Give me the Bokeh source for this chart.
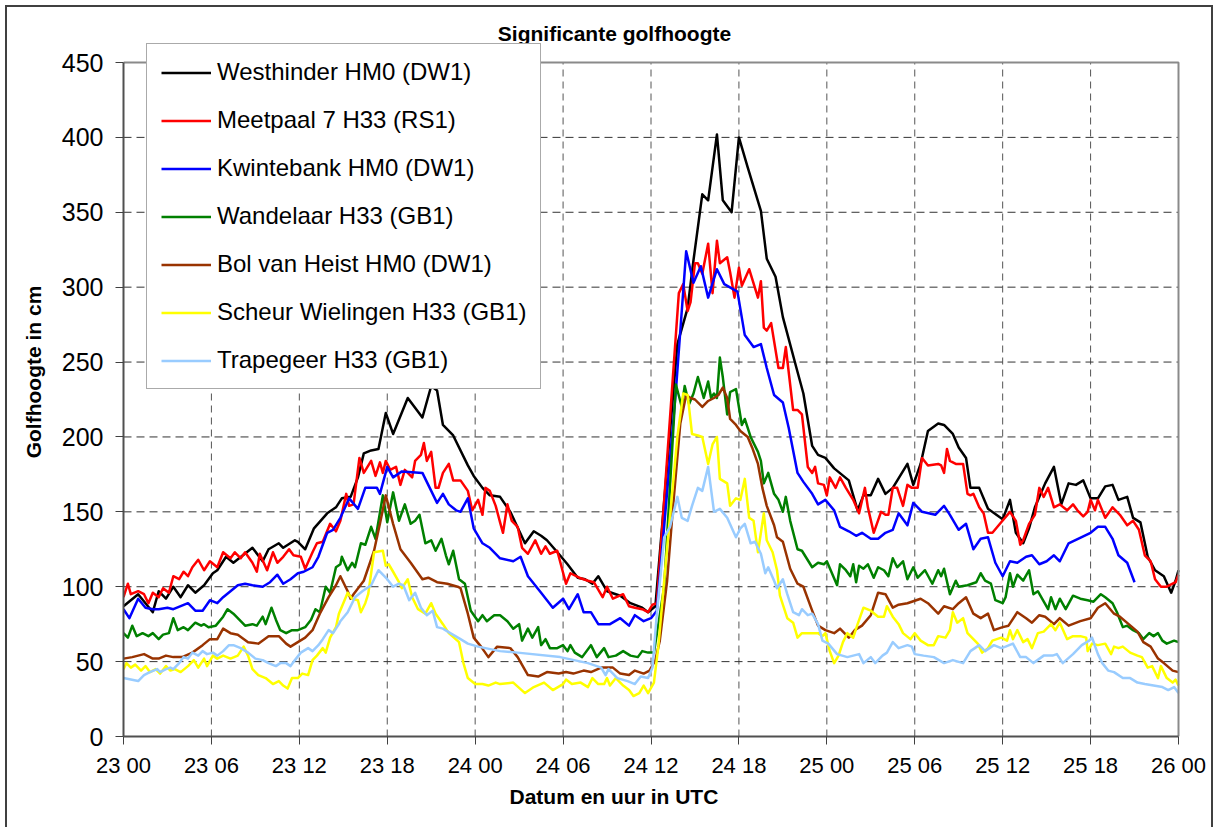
from bokeh.plotting import figure
from bokeh.models import Range1d, FixedTicker, Legend, LegendItem, Label, Title
from bokeh.embed import file_html
from bokeh.resources import INLINE

FONT = "Liberation Sans"

tick_hours = [0, 6, 12, 18, 24, 30, 36, 42, 48, 54, 60, 66, 72]
tick_labels = ["23 00", "23 06", "23 12", "23 18", "24 00", "24 06", "24 12",
               "24 18", "25 00", "25 06", "25 12", "25 18", "26 00"]
y_ticks = [0, 50, 100, 150, 200, 250, 300, 350, 400, 450]

series_names = ["Westhinder HM0 (DW1)", "Meetpaal 7 H33 (RS1)", "Kwintebank HM0 (DW1)",
                "Wandelaar H33 (GB1)", "Bol van Heist HM0 (DW1)",
                "Scheur Wielingen H33 (GB1)", "Trapegeer H33 (GB1)"]
series_colors = ["#000000", "#FF0000", "#0000FF", "#008000", "#993300", "#FFFF00", "#99CCFF"]

# (hours since 23 00, wave height in cm)
westhinder = [(0.0,87),(1.0,95),(2.0,83),(2.4,97),(2.9,92),(3.4,100),(3.9,93),(4.4,101),(4.9,96),(5.5,101),
 (6.1,109),(6.4,111),(7.0,120),(7.5,116),(8.8,126),(9.5,117),(9.9,125),(10.6,129),(10.9,126),(11.7,131),
 (11.9,130),(12.4,125),(13.0,139),(13.9,149),(14.5,153),(14.9,159),(15.5,160),(16.0,173),(16.4,189),(16.9,191),
 (17.4,192),(17.9,216),(18.4,202),(19.4,226),(20.4,213),(21.0,234),(21.4,231),(21.8,208),(22.5,201),(23.5,181),
 (23.9,174),(24.5,166),(25.0,161),(25.7,160),(26.4,150),(27.4,129),(28.0,137),(28.5,134),(28.9,131),(29.7,122),
 (30.3,115),(31.0,106),(31.5,105),(32.0,102),(32.4,107),(33.0,97),(33.9,94),(34.6,89),(35.4,86),(35.8,83),
 (36.3,87),(37.8,262),(38.5,286),(38.9,318),(39.5,362),(39.9,358),(40.5,402),(40.9,358),(41.5,350),(42.0,400),
 (42.6,380),(43.5,351),(43.9,319),(44.5,307),(45.0,280),(45.9,247),(46.4,229),(47.0,194),(47.4,188),(47.9,186),
 (48.5,179),(49.5,171),(50.1,151),(50.5,161),(51.0,161),(51.5,172),(52.0,162),(52.5,166),(53.5,182),(53.9,168),
 (54.4,182),(54.9,204),(55.6,209),(56.0,208),(56.6,202),(57.0,193),(57.5,186),(57.8,166),(58.4,166),(59.0,152),
 (60.0,145),(60.5,158),(60.9,136),(61.4,129),(61.8,139),(62.2,153),(62.9,169),(63.5,180),(64.0,155),(64.5,169),
 (65.0,168),(65.5,171),(66.0,159),(66.5,159),(67.0,167),(67.5,168),(67.9,158),(68.5,160),(68.9,146),(69.4,143),
 (69.9,120),(70.4,111),(71.0,107),(71.5,96),(71.8,104),(72.0,111)]

meetpaal7 = [(0.0,93),(0.3,102),(0.5,95),(1.0,97),(1.4,95),(1.7,89),(2.0,96),(2.4,93),(2.7,99),(3.1,96),
 (3.4,107),(3.8,105),(4.1,110),(4.4,107),(4.7,113),(5.1,118),(5.5,111),(5.9,117),(6.4,113),(6.8,123),
 (7.3,119),(7.6,123),(8.0,119),(8.3,123),(8.8,116),(9.1,110),(9.3,122),(9.8,111),(10.2,123),(10.5,116),
 (10.9,120),(11.3,125),(11.6,121),(12.1,120),(12.4,112),(12.9,123),(13.2,129),(13.6,130),(14.1,142),(14.5,137),
 (14.8,144),(15.2,162),(15.4,154),(15.7,155),(16.1,186),(16.4,176),(16.9,184),(17.2,174),(17.5,183),(17.7,176),
 (17.9,184),(18.2,178),(18.6,180),(18.9,168),(19.2,178),(19.7,173),(19.9,184),(20.3,188),(20.5,196),(20.7,184),
 (21.0,190),(21.3,166),(21.5,166),(21.8,176),(22.2,182),(22.5,171),(23.0,171),(23.5,164),(23.8,151),(24.2,158),
 (24.5,148),(24.7,166),(25.0,164),(25.4,154),(25.7,143),(25.9,136),(26.2,155),(26.5,144),(26.9,140),(27.2,126),
 (27.6,122),(28.1,131),(28.5,122),(28.8,127),(29.1,122),(29.6,124),(30.2,102),(30.5,109),(31.1,106),(31.7,104),
 (32.1,103),(32.7,93),(33.0,100),(33.4,92),(34.1,95),(34.5,87),(34.9,86),(35.4,85),(35.8,83),(36.1,88),
 (36.4,89),(37.9,296),(38.2,302),(38.5,284),(38.7,290),(39.0,316),(39.2,316),(39.5,309),(39.9,329),(40.2,296),
 (40.5,331),(40.7,316),(41.2,320),(41.4,310),(41.7,293),(42.0,313),(42.2,301),(42.7,312),(43.3,293),(43.5,304),
 (43.7,273),(43.9,271),(44.2,276),(44.7,246),(45.0,246),(45.2,260),(45.7,218),(46.0,218),(46.3,215),(46.7,180),
 (47.0,176),(47.2,180),(47.4,169),(47.8,168),(48.0,161),(48.2,173),(48.6,166),(48.9,173),(49.3,166),(49.8,158),
 (50.2,149),(50.6,166),(50.8,153),(51.2,136),(51.7,150),(52.0,148),(52.2,148),(52.5,166),(52.8,166),(53.2,154),
 (53.5,168),(53.8,166),(54.2,166),(54.5,186),(54.9,181),(55.6,182),(55.8,181),(56.0,176),(56.2,192),(56.4,184),
 (56.8,182),(57.3,182),(57.6,162),(57.8,161),(58.0,162),(58.4,153),(58.7,149),(59.0,136),(59.3,136),(59.9,143),
 (60.5,150),(60.9,144),(61.2,128),(61.4,131),(61.8,142),(62.2,148),(62.5,166),(62.8,160),(63.1,166),(63.5,153),
 (63.9,155),(64.4,151),(64.8,155),(65.1,151),(65.5,147),(65.8,150),(66.0,158),(66.3,151),(66.5,158),(67.0,146),
 (67.5,153),(68.0,148),(68.5,141),(68.9,144),(69.3,138),(69.7,121),(70.1,117),(70.4,105),(70.8,100),(71.2,100),
 (71.8,103),(72.0,108)]

kwintebank = [(0.0,85),(0.4,79),(1.0,92),(1.5,86),(2.0,85),(2.4,85),(3.0,86),(3.4,85),(3.9,87),(4.4,89),
 (4.9,84),(5.4,84),(5.9,91),(6.4,89),(6.8,93),(7.3,97),(7.8,101),(8.3,102),(8.8,101),(9.5,100),
 (10.0,103),(10.5,108),(10.9,102),(11.4,105),(11.9,109),(12.3,110),(12.9,113),(13.3,120),(13.9,136),(14.3,138),
 (14.8,146),(15.4,159),(16.0,152),(16.5,166),(17.3,166),(17.5,162),(18.0,180),(18.4,173),(19.0,177),(20.4,176),
 (21.4,156),(21.8,162),(22.2,155),(22.7,151),(23.0,150),(23.5,159),(23.9,139),(24.5,129),(25.0,126),(25.7,119),
 (26.6,117),(27.1,120),(27.6,107),(28.5,96),(29.3,86),(30.0,92),(30.4,85),(31.0,95),(31.4,83),(31.9,83),
 (32.4,75),(33.2,75),(33.9,79),(34.5,74),(34.9,81),(35.5,77),(36.0,79),(36.4,84),(37.7,231),(38.4,324),
 (38.9,303),(39.4,314),(39.9,293),(40.5,312),(41.0,302),(41.9,297),(42.4,268),(43.0,260),(43.5,262),(43.9,246),
 (44.4,228),(45.0,223),(45.4,206),(46.0,176),(46.4,170),(47.0,162),(47.4,155),(47.9,158),(48.5,151),(48.9,140),
 (49.5,137),(50.0,134),(50.4,136),(51.0,132),(51.5,132),(52.0,136),(52.5,138),(52.9,149),(53.5,141),(53.9,156),
 (54.5,150),(55.4,148),(56.0,154),(56.4,148),(57.0,138),(57.5,142),(58.0,125),(58.5,132),(59.0,133),(59.5,116),
 (60.0,107),(60.5,117),(61.0,116),(61.6,120),(62.0,121),(62.5,115),(63.0,117),(63.5,121),(63.9,117),(64.5,129),
 (66.0,136),(66.5,140),(67.0,140),(67.5,132),(67.9,121),(68.5,116),(69.0,103)]

wandelaar = [(0.0,69),(0.3,66),(0.6,74),(0.9,67),(1.3,69),(1.7,67),(2.0,69),(2.4,65),(2.7,68),(3.1,69),
 (3.4,79),(3.7,71),(4.1,73),(4.4,71),(4.9,76),(5.3,74),(5.5,75),(5.8,73),(6.3,74),(6.8,80),
 (7.1,85),(7.5,82),(8.0,77),(8.3,74),(8.8,75),(9.1,74),(9.5,80),(9.7,75),(10.1,86),(10.4,78),
 (10.7,71),(11.1,69),(11.5,71),(11.9,71),(12.4,73),(12.8,78),(13.1,85),(13.4,83),(13.8,100),(14.1,96),
 (14.5,113),(14.8,115),(14.9,120),(15.3,111),(15.6,116),(15.8,113),(16.2,129),(16.5,128),(16.9,140),(17.2,132),
 (17.7,161),(18.0,143),(18.4,163),(18.8,144),(19.2,155),(19.6,142),(19.9,144),(20.2,148),(20.6,129),(21.0,131),
 (21.3,124),(21.7,132),(22.0,121),(22.2,115),(22.5,124),(22.9,105),(23.3,102),(23.7,84),(24.2,77),(24.5,81),
 (24.8,77),(25.3,81),(25.7,81),(26.2,77),(26.6,72),(27.0,75),(27.2,64),(27.6,72),(27.9,66),(28.3,73),
 (28.5,61),(28.8,65),(29.1,59),(29.6,59),(30.0,61),(30.3,57),(30.5,61),(30.8,56),(31.3,53),(31.9,61),
 (32.3,53),(32.8,59),(33.1,53),(33.6,54),(34.1,57),(34.6,54),(35.1,53),(35.4,57),(35.8,56),(36.2,56),
 (36.9,100),(37.7,235),(38.1,220),(38.3,234),(38.6,222),(38.9,229),(39.2,240),(39.6,226),(39.9,237),(40.1,226),
 (40.3,229),(40.5,226),(40.7,253),(40.9,240),(41.2,215),(41.4,230),(41.8,232),(42.0,220),(42.2,208),(42.4,212),
 (42.8,200),(43.3,190),(43.5,184),(43.7,169),(44.0,176),(44.4,162),(44.7,158),(45.0,150),(45.2,160),(45.5,144),
 (46.0,125),(46.3,124),(47.0,113),(47.4,116),(47.8,115),(48.0,117),(48.7,101),(48.9,115),(49.3,111),(49.6,107),
 (49.8,115),(50.0,103),(50.2,114),(50.5,112),(50.8,115),(51.2,106),(51.5,113),(51.9,111),(52.2,107),(52.5,119),
 (52.8,113),(53.2,117),(53.5,105),(53.9,113),(54.2,106),(54.7,111),(55.2,102),(55.6,111),(55.8,107),(56.0,112),
 (56.4,95),(56.8,104),(57.0,100),(57.6,101),(58.2,103),(58.5,109),(58.8,104),(59.2,102),(59.5,91),(60.0,89),
 (60.2,93),(60.5,109),(60.7,100),(61.0,108),(61.4,104),(61.8,111),(62.1,95),(62.4,97),(63.1,85),(63.3,93),
 (63.6,85),(63.9,92),(64.3,85),(64.8,94),(65.3,92),(65.8,91),(66.2,90),(66.7,95),(67.0,93),(67.5,89),
 (67.8,83),(68.2,73),(68.5,74),(68.9,71),(69.3,69),(69.6,65),(70.0,69),(70.3,67),(70.6,69),(70.9,64),
 (71.2,62),(71.7,64),(72.0,63)]

bol_van_heist = [(0.0,52),(0.6,53),(1.4,55),(2.0,52),(2.4,52),(2.9,54),(3.4,53),(4.0,53),(4.7,56),(5.4,61),
 (5.9,65),(6.4,65),(6.8,72),(7.3,69),(7.8,68),(8.5,63),(9.2,62),(9.9,67),(10.6,67),(11.1,62),
 (11.4,60),(11.9,63),(12.4,66),(12.9,71),(13.4,82),(14.0,93),(14.5,101),(14.8,107),(15.3,97),(15.5,92),
 (15.7,95),(16.4,104),(17.1,124),(17.5,142),(17.9,161),(18.4,142),(18.9,125),(19.6,116),(20.4,105),(20.8,106),
 (21.4,103),(22.1,102),(22.8,100),(23.0,99),(23.5,82),(23.9,66),(24.4,60),(24.9,53),(25.5,60),(26.4,59),
 (26.9,53),(27.6,41),(28.3,40),(28.9,43),(29.7,42),(30.2,43),(30.7,42),(31.4,44),(31.9,43),(32.6,46),
 (33.4,46),(33.9,42),(34.5,41),(34.9,44),(35.5,42),(35.9,44),(36.3,51),(36.6,64),(37.1,104),(37.5,153),
 (38.0,209),(38.4,228),(38.7,226),(39.0,225),(39.5,220),(39.9,224),(40.3,226),(40.6,228),(40.9,233),(41.2,226),
 (41.4,212),(41.8,208),(42.1,204),(42.6,200),(42.9,193),(43.3,182),(43.6,166),(43.9,154),(44.4,141),(44.6,133),
 (45.0,130),(45.5,112),(46.0,102),(46.4,100),(47.0,84),(47.4,74),(47.9,71),(48.5,69),(48.9,72),(49.5,66),
 (49.9,71),(50.4,74),(51.0,81),(51.5,96),(52.0,95),(52.5,86),(52.9,88),(53.5,89),(54.4,92),(54.9,89),
 (55.6,82),(56.0,87),(56.6,85),(57.0,89),(57.5,93),(58.0,82),(58.5,79),(59.0,82),(59.4,71),(60.0,73),
 (60.4,74),(61.0,83),(61.6,79),(62.0,76),(62.5,81),(62.9,80),(63.5,75),(63.9,79),(64.5,74),(65.3,77),
 (66.0,79),(66.5,86),(67.0,89),(67.6,82),(68.0,80),(68.6,75),(69.2,70),(69.6,63),(70.1,60),(70.6,52),
 (71.0,49),(71.6,44),(72.0,43)]

scheur_wielingen = [(0.0,45),(0.2,49),(0.5,46),(0.8,48),(1.2,44),(1.5,47),(1.8,43),(2.2,45),(2.5,42),(2.9,47),
 (3.2,44),(3.5,45),(3.9,43),(4.4,47),(4.8,51),(5.1,46),(5.5,52),(5.7,47),(6.1,54),(6.4,52),
 (6.8,54),(7.3,52),(7.8,54),(8.2,60),(8.5,54),(8.8,45),(9.2,41),(9.7,39),(10.2,35),(10.6,37),
 (10.9,34),(11.2,32),(11.5,39),(11.9,39),(12.2,42),(12.6,41),(12.9,51),(13.2,54),(13.6,59),(13.8,56),
 (14.1,66),(14.5,73),(14.7,82),(15.3,96),(15.6,92),(16.0,91),(16.2,83),(16.5,89),(16.7,95),(17.1,123),
 (17.7,124),(17.9,114),(18.1,115),(18.4,110),(18.8,103),(19.0,99),(19.4,105),(19.7,93),(20.1,85),(20.6,82),
 (21.0,89),(21.3,82),(21.8,75),(22.2,69),(22.9,63),(23.2,49),(23.5,39),(24.0,35),(24.5,35),(24.9,34),
 (25.4,36),(25.7,35),(26.6,36),(27.4,29),(28.0,33),(28.7,36),(29.3,31),(30.0,35),(30.2,38),(30.6,35),
 (31.2,36),(31.7,33),(32.0,39),(32.4,35),(32.8,35),(33.0,39),(33.2,34),(33.6,39),(34.1,34),(34.5,31),
 (34.8,27),(35.2,29),(35.5,34),(35.8,29),(36.2,36),(36.5,60),(37.1,126),(37.8,200),(38.2,229),(38.5,228),
 (38.8,202),(39.2,201),(39.5,200),(39.9,182),(40.2,195),(40.5,200),(40.7,172),(41.2,169),(41.4,154),(41.8,159),
 (42.1,158),(42.4,172),(42.7,146),(43.0,144),(43.3,123),(43.7,149),(43.9,131),(44.3,123),(44.6,111),(44.8,94),
 (45.3,79),(45.7,76),(46.0,66),(46.3,69),(46.9,69),(47.4,69),(47.7,67),(47.9,69),(48.2,57),(48.5,49),
 (48.8,54),(49.1,63),(49.4,69),(49.8,66),(50.1,75),(50.5,86),(51.0,84),(51.5,80),(51.9,80),(52.1,87),
 (52.5,80),(52.9,75),(53.2,69),(53.7,65),(54.0,69),(54.4,64),(54.9,61),(55.3,61),(55.6,67),(56.1,66),
 (56.4,71),(56.6,83),(56.9,76),(57.3,79),(57.6,69),(57.9,66),(58.3,62),(58.6,56),(59.0,59),(59.3,64),
 (59.9,66),(60.3,64),(60.5,71),(60.7,65),(61.0,71),(61.4,63),(61.7,65),(62.0,59),(62.4,69),(62.8,70),
 (63.3,75),(63.6,71),(63.9,76),(64.4,65),(64.8,67),(65.3,67),(65.7,66),(65.8,57),(66.1,62),(66.5,61),
 (67.0,62),(67.4,55),(67.6,60),(67.9,59),(68.2,60),(68.7,56),(69.2,54),(69.5,53),(69.9,46),(70.2,47),
 (70.6,39),(70.8,47),(71.2,39),(71.6,36),(71.8,38),(72.0,34)]

trapegeer = [(0.0,39),(1.0,37),(1.4,41),(1.8,43),(2.3,45),(2.5,43),(2.9,45),(3.2,46),(3.4,45),(3.8,49),
 (4.1,53),(4.4,52),(4.7,56),(5.1,54),(5.4,57),(5.7,55),(6.1,56),(6.4,54),(6.8,57),(7.2,61),
 (7.5,61),(8.0,59),(8.5,56),(9.0,52),(9.5,51),(9.9,49),(10.4,47),(10.7,49),(11.1,49),(11.4,47),
 (11.7,51),(12.1,56),(12.6,59),(12.9,57),(13.3,61),(13.6,65),(14.0,71),(14.3,69),(14.7,75),(14.8,77),
 (15.3,83),(15.8,93),(16.3,97),(16.9,101),(17.4,111),(18.0,105),(18.4,100),(18.8,102),(19.1,101),(19.5,91),
 (19.9,96),(20.3,86),(20.7,81),(21.1,84),(21.4,73),(21.8,72),(22.3,69),(23.0,65),(23.5,62),(24.2,60),
 (25.7,57),(26.9,56),(29.8,53),(31.7,49),(32.6,46),(32.9,41),(33.1,45),(33.7,39),(34.4,37),(34.9,35),
 (35.3,40),(35.8,39),(36.1,46),(36.4,82),(36.9,133),(37.3,140),(37.8,160),(38.1,146),(38.5,144),(38.8,154),
 (39.2,166),(39.5,164),(39.9,180),(40.3,150),(40.7,152),(41.2,146),(41.8,133),(42.1,139),(42.4,142),(42.8,129),
 (43.1,130),(43.5,122),(43.8,109),(44.0,113),(44.4,104),(44.6,99),(45.0,105),(45.3,95),(45.7,83),(46.1,81),
 (46.3,85),(46.7,81),(47.0,82),(47.4,75),(47.7,64),(48.1,62),(48.7,55),(49.4,53),(49.8,54),(50.2,55),
 (50.5,49),(51.0,53),(51.3,49),(51.8,54),(52.1,56),(52.5,63),(52.9,59),(53.5,61),(53.8,60),(54.0,55),
 (54.6,54),(55.3,53),(56.0,49),(56.6,51),(57.3,49),(57.8,57),(58.4,61),(58.8,57),(59.4,61),(59.9,59),
 (60.2,60),(60.7,62),(61.2,53),(61.6,53),(62.1,49),(62.8,54),(63.4,54),(63.7,55),(64.1,49),(64.8,55),
 (65.4,61),(65.9,64),(66.1,66),(66.5,55),(66.8,49),(67.2,44),(67.6,43),(68.2,39),(68.7,39),(69.2,36),
 (69.7,35),(70.3,34),(70.9,33),(71.3,31),(71.7,33),(72.0,29)]

all_series = [westhinder, meetpaal7, kwintebank, wandelaar, bol_van_heist, scheur_wielingen, trapegeer]

X_MAX = tick_hours[-1]
Y_MAX = y_ticks[-1]
PX_PER_H = 1055 / X_MAX          # plot area 1055 px wide
PX_PER_CM = 674 / Y_MAX          # plot area 674 px tall
X_END = X_MAX + 3 / PX_PER_H     # small room for the right border line
FRAME_H = 729                    # frame reaches from the canvas top to the x axis
Y_END = FRAME_H / PX_PER_CM

p = figure(width=1204, height=820, frame_width=1058, frame_height=FRAME_H,
           min_border_left=116, min_border_right=30, min_border_top=0, min_border_bottom=91,
           x_range=Range1d(0, X_END), y_range=Range1d(0, Y_END),
           output_backend="svg", toolbar_location=None,
           background_fill_color="white", border_fill_color="white")
# outer chart border drawn just outside the canvas
p.styles = {"margin-left": "7px", "margin-top": "7px",
            "outline": "2px solid #404040", "outline-offset": "0px"}
p.outline_line_color = None
p.grid.visible = False

# dashed grid lines inside the plot area
inner_h = tick_hours[1:-1]
p.segment(x0=inner_h, y0=[0] * len(inner_h), x1=inner_h, y1=[Y_MAX] * len(inner_h),
          line_color="#555555", line_width=1, line_dash="7 5")
inner_y = y_ticks[1:-1]
p.segment(x0=[0] * len(inner_y), y0=inner_y, x1=[X_MAX] * len(inner_y), y1=inner_y,
          line_color="#333333", line_width=1, line_dash="8 5")

items = []
for name, col, data in zip(series_names, series_colors, all_series):
    xs = [d[0] for d in data]
    ys = [d[1] for d in data]
    r = p.line(xs, ys, line_color=col, line_width=2.5, line_join="round")
    items.append(LegendItem(label=name, renderers=[r]))

# plot-area border (top and right)
p.line([0, X_MAX, X_MAX], [Y_MAX, Y_MAX, 0], line_color="#8a8a8a", line_width=2)

# axes
p.xaxis.ticker = FixedTicker(ticks=tick_hours)
p.xaxis.major_label_overrides = {h: lab for h, lab in zip(tick_hours, tick_labels)}
p.xaxis.bounds = (0, X_MAX)
p.yaxis.ticker = FixedTicker(ticks=y_ticks)
p.yaxis.bounds = (0, Y_MAX)
for ax in (p.xaxis[0], p.yaxis[0]):
    ax.axis_line_color = "#505050"
    ax.axis_line_width = 2
    ax.major_tick_line_color = "#404040"
    ax.major_tick_line_width = 1
    ax.major_tick_in = 0
    ax.major_tick_out = 8
    ax.minor_tick_line_color = None
    ax.major_label_text_font = FONT
    ax.major_label_text_color = "black"
p.xaxis.major_label_text_font_size = "22px"
p.xaxis.major_label_standoff = 8
p.yaxis.major_label_text_font_size = "25px"
p.yaxis.major_label_standoff = 12

p.yaxis.axis_label = "Golfhoogte in cm"
p.yaxis.axis_label_text_font = FONT
p.yaxis.axis_label_text_font_style = "bold"
p.yaxis.axis_label_text_font_size = "21px"
p.yaxis.axis_label_text_color = "black"
p.yaxis.axis_label_standoff = 14

# chart title (inside the tall frame, above the plot area)
p.add_layout(Label(x=(614 - 123) / PX_PER_H, y=(736 - 33) / PX_PER_CM,
                   text="Significante golfhoogte", text_font=FONT,
                   text_font_style="bold", text_font_size="21px", text_align="center",
                   text_baseline="middle", text_color="black"))

# x axis title below the axis
p.add_layout(Title(text="Datum en uur in UTC", align="left", offset=386, standoff=4,
                   text_font=FONT, text_font_style="bold", text_font_size="21px",
                   text_color="black"), "below")

legend = Legend(items=items, location=(23, 347), orientation="vertical",
                glyph_width=50, glyph_height=27, label_height=27, label_standoff=6,
                spacing=20, padding=14, margin=0,
                label_text_font=FONT, label_text_font_size="24px", label_text_color="black",
                border_line_color="#555555", border_line_width=1.5,
                background_fill_color="white", background_fill_alpha=1.0)
p.add_layout(legend)

open("out.html", "w").write(file_html(p, INLINE))
